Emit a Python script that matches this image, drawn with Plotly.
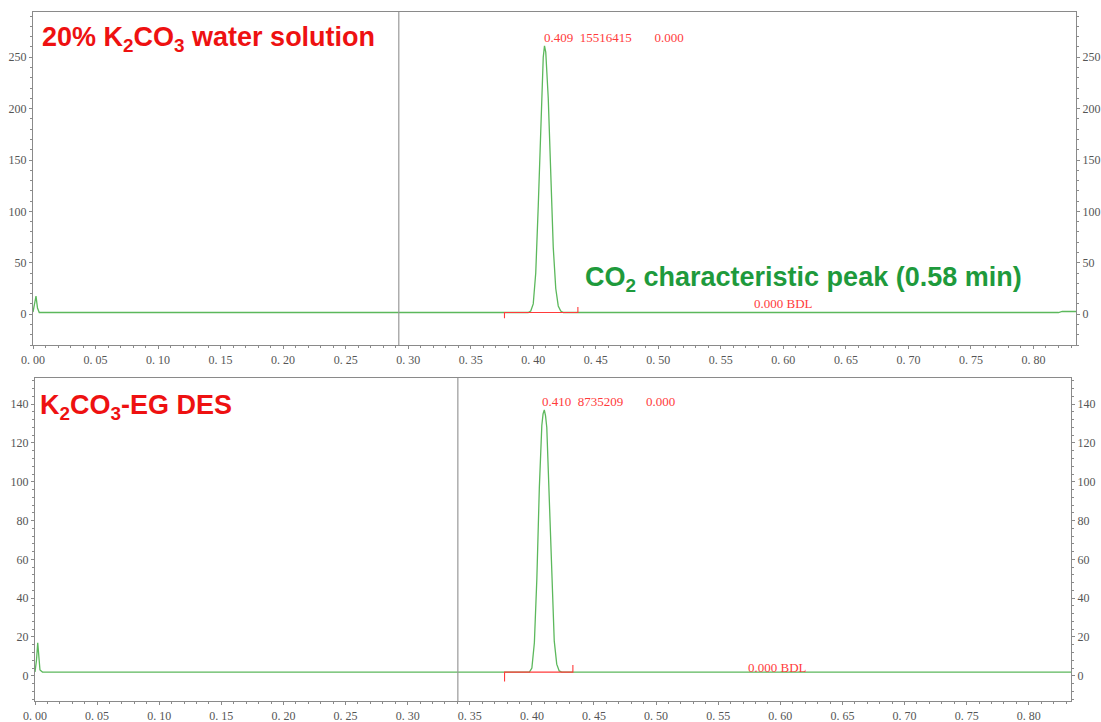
import plotly.graph_objects as go

# ---------------- data ----------------
t_top = [0.000, 0.0012, 0.0024, 0.0036, 0.005, 0.396, 0.398, 0.400, 0.402, 0.404, 0.406, 0.408,
         0.409, 0.410, 0.412, 0.414, 0.416, 0.418, 0.420, 0.422, 0.424, 0.820, 0.823, 0.834]
s_top = [2.0, 9.0, 17.5, 6.0, 1.6, 1.6, 3, 10, 40, 105, 190, 250,
         261, 255, 210, 135, 65, 25, 8, 3, 1.6, 1.6, 2.6, 2.6]

t_bot = [0.000, 0.0012, 0.0022, 0.0030, 0.0040, 0.006, 0.398, 0.400, 0.402, 0.404, 0.406, 0.408,
         0.409, 0.410, 0.411, 0.412, 0.414, 0.416, 0.418, 0.420, 0.422, 0.424, 0.834]
s_bot = [2.0, 8.0, 17.0, 8.0, 3.0, 1.9, 1.9, 4, 17, 50, 97, 129,
         135, 137, 134, 128, 93, 49, 18, 6, 2.5, 1.9, 1.9]

int_top_x = [0.377, 0.377, 0.4357, 0.4357]
int_top_y = [-4.0, 1.6, 1.6, 7.0]
int_bot_x = [0.378, 0.378, 0.433, 0.433]
int_bot_y = [-3.0, 1.9, 1.9, 5.5]

marker_top = 0.2925
marker_bot = 0.3404

x_ticks = [0.00, 0.05, 0.10, 0.15, 0.20, 0.25, 0.30, 0.35, 0.40, 0.45,
           0.50, 0.55, 0.60, 0.65, 0.70, 0.75, 0.80]
x_ticklabels = ["0. 00", "0. 05", "0. 10", "0. 15", "0. 20", "0. 25", "0. 30", "0. 35", "0. 40",
                "0. 45", "0. 50", "0. 55", "0. 60", "0. 65", "0. 70", "0. 75", "0. 80"]

peak_top_label = "0.409\u00a0\u00a015516415\u00a0\u00a0\u00a0\u00a0\u00a0\u00a0\u00a00.000"
peak_bot_label = "0.410\u00a0\u00a08735209\u00a0\u00a0\u00a0\u00a0\u00a0\u00a0\u00a00.000"
bdl_label = "0.000 BDL"

# ---------------- styling ----------------
GREEN = "#5cb85c"
RED = "#ff3b3b"
AX = "#8a8a8a"
TICKFONT = dict(family="Liberation Serif", size=12, color="#555555")

fig = go.Figure()
fig.add_trace(go.Scatter(x=t_top, y=s_top, mode="lines", line=dict(color=GREEN, width=1.3),
                         xaxis="x", yaxis="y", hoverinfo="skip"))
fig.add_trace(go.Scatter(x=int_top_x, y=int_top_y, mode="lines", line=dict(color=RED, width=1.1),
                         xaxis="x", yaxis="y", hoverinfo="skip"))
fig.add_trace(go.Scatter(x=t_bot, y=s_bot, mode="lines", line=dict(color=GREEN, width=1.3),
                         xaxis="x2", yaxis="y3", hoverinfo="skip"))
fig.add_trace(go.Scatter(x=int_bot_x, y=int_bot_y, mode="lines", line=dict(color=RED, width=1.1),
                         xaxis="x2", yaxis="y3", hoverinfo="skip"))

W, H = 1101, 722
top_x = [33 / W, 1076 / W]
top_y = [1 - 345 / H, 1 - 12 / H]
bot_x = [35 / W, 1071 / W]
bot_y = [1 - 701 / H, 1 - 378 / H]

xr = [0, 0.834]
yr_top = [-30, 294]
yr_bot = [-13, 153.5]

def xaxis(domain, anchor):
    return dict(domain=domain, anchor=anchor, range=xr, tickvals=x_ticks, ticktext=x_ticklabels,
                ticks="outside", ticklen=3, tickcolor=AX, showline=True, linecolor=AX, linewidth=1.2,
                mirror=True, showgrid=False, zeroline=False, tickfont=TICKFONT,
                minor=dict(dtick=0.01, tick0=0, ticks="outside", ticklen=2, tickcolor=AX),
                automargin=False)

def yaxis(domain, anchor, rng, dt, mdt, side, overlay=None):
    d = dict(domain=domain, anchor=anchor, range=rng, dtick=dt, tick0=0, side=side,
             ticks="outside", ticklen=3, tickcolor=AX, showline=True, linecolor=AX, linewidth=1.2,
             showgrid=False, zeroline=False, tickfont=TICKFONT,
             minor=dict(dtick=mdt, tick0=0, ticks="outside", ticklen=2, tickcolor=AX),
             automargin=False)
    if overlay:
        d["overlaying"] = overlay
    return d

fig.update_layout(
    width=W, height=H,
    margin=dict(l=0, r=0, t=0, b=0),
    paper_bgcolor="white", plot_bgcolor="white",
    showlegend=False,
    xaxis=xaxis(top_x, "y"),
    xaxis2=xaxis(bot_x, "y3"),
    yaxis=yaxis(top_y, "x", yr_top, 50, 10, "left"),
    yaxis2=yaxis(top_y, "x", yr_top, 50, 10, "right", overlay="y"),
    yaxis3=yaxis(bot_y, "x2", yr_bot, 20, 4, "left"),
    yaxis4=yaxis(bot_y, "x2", yr_bot, 20, 4, "right", overlay="y3"),
)

# invisible traces to activate the right-side axes
fig.add_trace(go.Scatter(x=[0.1], y=[0], mode="markers", marker=dict(opacity=0),
                         xaxis="x", yaxis="y2", hoverinfo="skip"))
fig.add_trace(go.Scatter(x=[0.1], y=[0], mode="markers", marker=dict(opacity=0),
                         xaxis="x2", yaxis="y4", hoverinfo="skip"))

# vertical gray markers
fig.add_shape(type="line", xref="x", yref="y domain", x0=marker_top, x1=marker_top, y0=0, y1=1,
              line=dict(color="#999999", width=1.2))
fig.add_shape(type="line", xref="x2", yref="y3 domain", x0=marker_bot, x1=marker_bot, y0=0, y1=1,
              line=dict(color="#999999", width=1.2))

BIG = dict(family="Arial, Liberation Sans", size=27, weight="bold")
SMALL = dict(family="Liberation Serif", size=13, color=RED)

fig.add_annotation(text="20% K<sub>2</sub>CO<sub>3</sub> water solution", xref="paper", yref="paper",
                   x=40 / W, y=1 - 39 / H, xanchor="left", yanchor="middle", showarrow=False,
                   font=dict(color="#ee1111", **BIG))
fig.add_annotation(text="K<sub>2</sub>CO<sub>3</sub>-EG DES", xref="paper", yref="paper",
                   x=38 / W, y=1 - 407 / H, xanchor="left", yanchor="middle", showarrow=False,
                   font=dict(color="#ee1111", **BIG))
fig.add_annotation(text="CO<sub>2</sub> characteristic peak (0.58 min)", xref="paper", yref="paper",
                   x=583 / W, y=1 - 279 / H, xanchor="left", yanchor="middle", showarrow=False,
                   font=dict(color="#1e9a3c", **BIG))
fig.add_annotation(text=peak_top_label, xref="paper", yref="paper", x=542 / W, y=1 - 38 / H,
                   xanchor="left", yanchor="middle", showarrow=False, font=SMALL)
fig.add_annotation(text=peak_bot_label, xref="paper", yref="paper", x=540 / W, y=1 - 401 / H,
                   xanchor="left", yanchor="middle", showarrow=False, font=SMALL)
fig.add_annotation(text=bdl_label, xref="paper", yref="paper", x=752 / W, y=1 - 303 / H,
                   xanchor="left", yanchor="middle", showarrow=False, font=SMALL)
fig.add_annotation(text=bdl_label, xref="paper", yref="paper", x=746 / W, y=1 - 667 / H,
                   xanchor="left", yanchor="middle", showarrow=False, font=SMALL)

fig.write_html("out.html")
